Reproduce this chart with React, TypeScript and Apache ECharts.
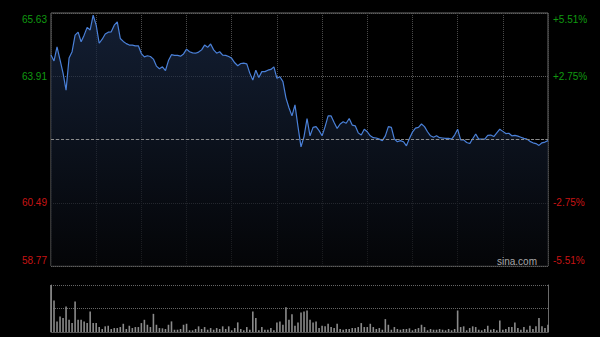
import React, { useEffect, useRef } from "react";
import * as echarts from "echarts";

// Intraday prices, one reading every 2 minutes over a 330-minute session
const prices = [
  64.49, 64.33, 64.71, 64.36, 64.0, 63.54, 64.41, 64.58, 65.03, 65.11,
  64.85, 65.03, 65.24, 65.17, 65.57, 65.3, 64.81, 64.92, 65.06, 65.11,
  65.12, 65.3, 65.39, 64.94, 64.86, 64.8, 64.76, 64.76, 64.74, 64.74,
  64.53, 64.44, 64.47, 64.45, 64.38, 64.19, 64.12, 64.17, 64.07, 64.34,
  64.5, 64.48, 64.48, 64.46, 64.52, 64.65, 64.58, 64.55, 64.54, 64.57,
  64.63, 64.76, 64.7, 64.79, 64.63, 64.54, 64.58, 64.49, 64.48, 64.45,
  64.4, 64.28, 64.2, 64.26, 64.27, 64.25, 64.0, 63.81, 64.08, 63.88,
  64.04, 64.04, 64.08, 64.1, 64.17, 63.86, 63.9, 63.77, 63.33, 63.06,
  62.84, 63.14, 62.55, 62.0, 62.28, 62.77, 62.3, 62.53, 62.55, 62.44,
  62.3, 62.55, 62.84, 62.84, 62.66, 62.5, 62.62, 62.68, 62.64, 62.77,
  62.59, 62.57, 62.38, 62.32, 62.48, 62.41, 62.3, 62.25, 62.24, 62.21,
  62.17, 62.3, 62.55, 62.53, 62.21, 62.14, 62.17, 62.14, 62.03, 62.23,
  62.4, 62.51, 62.53, 62.62, 62.55, 62.41, 62.3, 62.26, 62.3, 62.25,
  62.24, 62.23, 62.23, 62.21, 62.32, 62.48, 62.19, 62.19, 62.12, 62.09,
  62.22, 62.35, 62.21, 62.21, 62.21, 62.31, 62.32, 62.28, 62.38, 62.48,
  62.42, 62.36, 62.37, 62.3, 62.31, 62.29, 62.26, 62.23, 62.21, 62.15,
  62.11, 62.09, 62.04, 62.11, 62.13, 62.17,
];

// Volume per 2-minute step (relative units)
const volumes = [
  473, 317, 107, 157, 140, 257, 123, 90, 307, 123,
  123, 107, 90, 207, 90, 90, 50, 30, 57, 63,
  30, 40, 40, 50, 83, 30, 63, 40, 50, 50,
  90, 123, 73, 50, 183, 73, 40, 37, 30, 73,
  107, 23, 23, 30, 73, 83, 17, 17, 30, 57,
  30, 50, 23, 40, 23, 40, 30, 57, 30, 57,
  17, 40, 97, 30, 17, 50, 23, 207, 140, 17,
  50, 23, 23, 40, 17, 97, 107, 73, 250, 123,
  180, 63, 97, 197, 207, 217, 123, 97, 107, 40,
  63, 57, 83, 50, 40, 83, 30, 23, 30, 30,
  40, 40, 50, 90, 50, 50, 83, 50, 30, 40,
  23, 130, 73, 23, 50, 30, 23, 30, 30, 37,
  17, 30, 40, 73, 50, 17, 30, 23, 23, 30,
  23, 17, 30, 17, 30, 217, 50, 57, 17, 40,
  57, 50, 23, 17, 30, 63, 23, 30, 17, 117,
  23, 30, 50, 50, 97, 40, 23, 50, 23, 63,
  30, 57, 140, 57, 40, 73,
];

const leftLabels = ["58.77", "60.49", "", "63.91", "65.63"];
const rightLabels = ["-5.51%", "-2.75%", "", "+2.75%", "+5.51%"];
const priceMin = 58.77;
const priceMax = 65.63;
const prevClose = 62.2;
const volumeMax = 474;
const sessionMinutes = 330;
const minutesPerPoint = 2;

const FONT = "'Liberation Sans', Arial, sans-serif";
const GREEN = "#109a10";
const RED = "#c81414";

function labelRich() {
  return {
    g: { color: GREEN, fontSize: 10, fontFamily: FONT },
    gt: { color: GREEN, fontSize: 10, fontFamily: FONT, padding: [12, 0, 0, 0] },
    r: { color: RED, fontSize: 10, fontFamily: FONT },
    rb: { color: RED, fontSize: 10, fontFamily: FONT, padding: [0, 0, 12, 0] },
  };
}

function fmt(labels: string[]) {
  return (v: number) => {
    const i = Math.round(v) + 2;
    const t = labels[i];
    if (!t) return "";
    const style = i === 0 ? "rb" : i === 1 ? "r" : i === 3 ? "g" : "gt";
    return `{${style}|${t}}`;
  };
}

export default function App() {
  const ref = useRef<HTMLDivElement>(null);
  useEffect(() => {
    if (!ref.current) return;
    const chart = echarts.init(ref.current, undefined, { renderer: "svg" });
    const priceData = prices.map((p, i) => [i * minutesPerPoint, p]);
    const volData = volumes.map((v, i) => [i * minutesPerPoint, v]);
    chart.setOption({
      animation: false,
      backgroundColor: "#000",
      grid: [
        { left: 51, top: 13, width: 497, height: 253, show: true, borderColor: "#6a6a6a", borderWidth: 1, backgroundColor: "transparent" },
        { left: 51, top: 285, width: 497, height: 47 },
      ],
      xAxis: [
        {
          type: "value", gridIndex: 0, min: 0, max: sessionMinutes, interval: 30,
          axisLine: { show: false }, axisTick: { show: false }, axisLabel: { show: false },
          splitLine: { show: true, lineStyle: { color: "#4a4a4a", type: "dotted", width: 1 } },
        },
        {
          type: "value", gridIndex: 1, min: 0, max: sessionMinutes, interval: 30,
          axisLine: { show: true, lineStyle: { color: "#555" } }, axisTick: { show: false }, axisLabel: { show: false },
          splitLine: { show: false },
        },
      ],
      yAxis: [
        { type: "value", gridIndex: 0, min: priceMin, max: priceMax, show: false },
        {
          type: "value", gridIndex: 0, min: -2, max: 2, interval: 1, position: "left",
          axisLine: { show: false }, axisTick: { show: false },
          axisLabel: { show: true, margin: 4, formatter: fmt(leftLabels), rich: labelRich(), showMinLabel: true, showMaxLabel: true },
          splitLine: { show: true, lineStyle: { color: "#5e5e5e", type: "dotted", width: 1 } },
        },
        {
          type: "value", gridIndex: 0, min: -2, max: 2, interval: 1, position: "right",
          axisLine: { show: false }, axisTick: { show: false },
          axisLabel: { show: true, margin: 5, formatter: fmt(rightLabels), rich: labelRich(), showMinLabel: true, showMaxLabel: true },
          splitLine: { show: false },
        },
        {
          type: "value", gridIndex: 1, min: 0, max: volumeMax, interval: volumeMax / 2, position: "left",
          axisLine: { show: true, lineStyle: { color: "#6a6a6a" } }, axisTick: { show: false }, axisLabel: { show: false },
          splitLine: { show: true, lineStyle: { color: "#666", type: "dotted", width: 1 } },
        },
        {
          type: "value", gridIndex: 1, min: 0, max: volumeMax, position: "right",
          axisLine: { show: true, lineStyle: { color: "#6a6a6a" } }, axisTick: { show: false }, axisLabel: { show: false },
          splitLine: { show: false },
        },
      ],
      series: [
        {
          type: "line",
          xAxisIndex: 0,
          yAxisIndex: 0,
          data: priceData,
          showSymbol: false,
          symbol: "none",
          lineStyle: { color: "#4a80d8", width: 1.2 },
          areaStyle: {
            color: new echarts.graphic.LinearGradient(0, 0, 0, 1, [
              { offset: 0, color: "#1b2b48" },
              { offset: 1, color: "#06070a" },
            ]),
          },
          markLine: {
            silent: true,
            symbol: ["none", "none"],
            label: { show: false },
            lineStyle: { color: "#8a8a8a", type: [3, 2], width: 1 },
            data: [{ yAxis: prevClose }],
          },
          z: 3,
        },
        {
          type: "bar",
          xAxisIndex: 1,
          yAxisIndex: 3,
          data: volData,
          barWidth: 1.6,
          itemStyle: { color: "#8a8a8a" },
        },
      ],
      graphic: [
        {
          type: "text",
          right: 63,
          top: 256,
          style: { text: "sina.com", fill: "#a8a8a8", fontSize: 10, fontFamily: FONT },
          z: 10,
        },
      ],
    });
    return () => chart.dispose();
  }, []);
  return <div ref={ref} style={{ position: "fixed", left: 0, top: 0, width: 600, height: 337 }} />;
}
